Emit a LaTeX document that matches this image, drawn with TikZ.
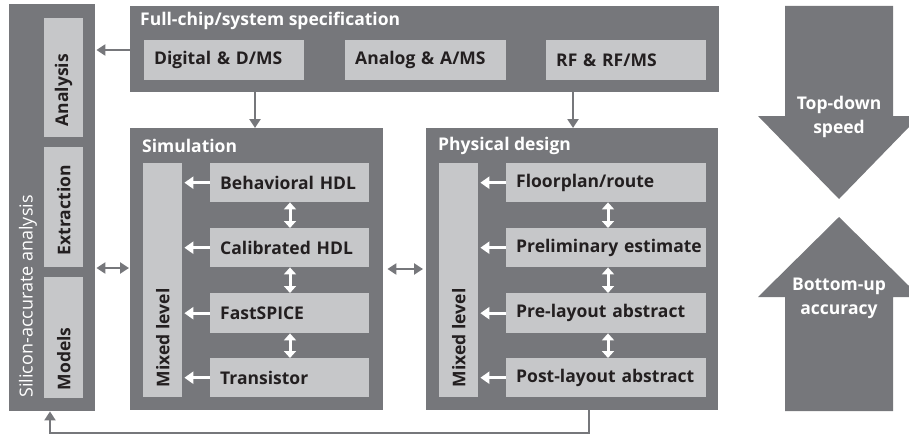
\documentclass[tikz,border=0pt]{standalone}
\usepackage{fontspec}
\setmainfont{Open Sans}
\usetikzlibrary{arrows.meta}
\definecolor{dk}{HTML}{76777B}
\definecolor{lt}{HTML}{C6C7C9}
\definecolor{tx}{HTML}{231F20}
\begin{document}
\begin{tikzpicture}[x=1pt,y=-1pt,
  every node/.style={font=\fontsize{17.5}{20}\selectfont\bfseries},
  dkbox/.style={fill=dk, draw=none, inner sep=0pt, anchor=north west},
  ltbar/.style={fill=lt, draw=none, inner sep=0pt, anchor=north west, minimum width=39pt},
  ibox/.style={fill=lt, draw=none, anchor=north west, inner xsep=10pt, inner ysep=0pt, align=left, text=tx},
  title/.style={text=white, anchor=west, inner sep=0pt},
  vtext/.style={rotate=90, anchor=west, inner sep=0pt, text=tx},
  garr/.style={draw=dk, line width=2.5pt, -{Triangle[length=9pt,width=11pt]}},
  gdarr/.style={draw=dk, line width=2.5pt, {Triangle[length=9pt,width=11pt]}-{Triangle[length=9pt,width=11pt]}},
  warr/.style={draw=white, line width=3pt, -{Triangle[length=9pt,width=12pt]}},
  wdarr/.style={draw=white, line width=3pt, {Triangle[length=7pt,width=12pt]}-{Triangle[length=7pt,width=12pt]}},
  bigtext/.style={text=white, align=center, font=\fontsize{17.5}{24}\selectfont\bfseries}
]
\useasboundingbox (0,0) rectangle (909,436);

% left column
\node[dkbox, minimum width=86pt, minimum height=407pt] (sil) at (9,4) {};
\node[ltbar, minimum height=119pt] (ana) at (44,18) {};
\node[ltbar, minimum height=120pt] (ext) at (44,147) {};
\node[ltbar, minimum height=121pt] (mod) at (44,277) {};
\node[vtext] (anat) at ([yshift=11pt]ana.south) {Analysis};
\node[vtext] (extt) at ([yshift=12pt]ext.south) {Extraction};
\node[vtext] (modt) at ([yshift=8pt]mod.south) {Models};
\node[vtext, text=white, font=\fontsize{18}{20}\selectfont] (silt) at (28,398) {Silicon-accurate analysis};

% specification
\node[dkbox, minimum width=589pt, minimum height=86pt] (spec) at (130,6) {};
\node[title] (spect) at (140,21) {Full-chip/system specification};
\node[ibox, text width=140pt, minimum height=40pt] (dig) at (144,40) {Digital \& D/MS};
\node[ibox, text width=141pt, minimum height=40pt] (anl) at (345,40) {Analog \& A/MS};
\node[ibox, text width=140pt, minimum height=40pt] (rf) at (546,40) {RF \& RF/MS};

% simulation
\node[dkbox, minimum width=253pt, minimum height=282pt] (sim) at (130,128) {};
\node[title] (simt) at (142,146) {Simulation};
\node[ltbar, minimum height=234pt] (smix) at (143,163) {};
\node[vtext] (smixt) at ([yshift=10pt]smix.south) {Mixed level};
\node[ibox, text width=139pt, minimum height=39pt] (beh) at (210,163) {Behavioral HDL};
\node[ibox, text width=139pt, minimum height=39pt] (cal) at (210,228) {Calibrated HDL};
\node[ibox, text width=139pt, minimum height=40pt] (fas) at (210,293) {FastSPICE};
\node[ibox, text width=139pt, minimum height=39pt] (tra) at (210,358) {Transistor};

% physical design
\node[dkbox, minimum width=292pt, minimum height=282pt] (phy) at (426,128) {};
\node[title] (phyt) at (438,146) {Physical design};
\node[ltbar, minimum height=234pt] (pmix) at (439,163) {};
\node[vtext] (pmixt) at ([yshift=10pt]pmix.south) {Mixed level};
\node[ibox, text width=180pt, minimum height=39pt] (flo) at (506,163) {Floorplan/route};
\node[ibox, text width=180pt, minimum height=39pt] (pre) at (506,228) {\mbox{Preliminary estimate}};
\node[ibox, text width=180pt, minimum height=40pt] (pla) at (506,293) {Pre-layout abstract};
\node[ibox, text width=180pt, minimum height=39pt] (pos) at (506,358) {Post-layout abstract};

% white arrows
\foreach \b in {beh,cal,fas,tra} \draw[warr] (\b.west) -- ([xshift=2pt]smix.east |- \b.west);
\foreach \b in {flo,pre,pla,pos} \draw[warr] (\b.west) -- ([xshift=2pt]pmix.east |- \b.west);
\draw[wdarr] (beh.south -| 290,0) -- (cal.north -| 290,0);
\draw[wdarr] (cal.south -| 290,0) -- (fas.north -| 290,0);
\draw[wdarr] (fas.south -| 290,0) -- (tra.north -| 290,0);
\draw[wdarr] (flo.south -| 608,0) -- (pre.north -| 608,0);
\draw[wdarr] (pre.south -| 608,0) -- (pla.north -| 608,0);
\draw[wdarr] (pla.south -| 608,0) -- (pos.north -| 608,0);

% gray connectors
\draw[garr] (spec.west |- 0,50) -- ([xshift=1pt]sil.east |- 0,50);
\draw[garr] (spec.south -| 255,0) -- (sim.north -| 255,0);
\draw[garr] (spec.south -| 573,0) -- (phy.north -| 573,0);
\draw[gdarr] ([xshift=1pt]sil.east |- 0,268) -- ([xshift=-1pt]sim.west |- 0,268);
\draw[gdarr] ([xshift=4pt]sim.east |- 0,269) -- ([xshift=-3pt]phy.west |- 0,269);
\coordinate (fb1) at (589,433);
\coordinate (fb2) at (50,433);
\draw[draw=dk, line width=2pt, -{Triangle[length=9pt,width=11pt]}] (phy.south -| fb1) -- (fb1) -- (fb2) -- (sil.south -| fb2);

% right big arrows
\fill[dk] (785,6) -- (893,6) -- (893,116) -- (909,116) -- (909,127) -- (839,199) -- (758,116) -- (785,116) -- cycle;
\fill[dk] (839,217) -- (909,286) -- (909,297) -- (893,297) -- (893,411) -- (785,411) -- (785,297) -- (758,297) -- cycle;
\node[bigtext] (td) at (839,117) {Top-down\\speed};
\node[bigtext] (bu) at (839,298) {Bottom-up\\accuracy};
\end{tikzpicture}
\end{document}
